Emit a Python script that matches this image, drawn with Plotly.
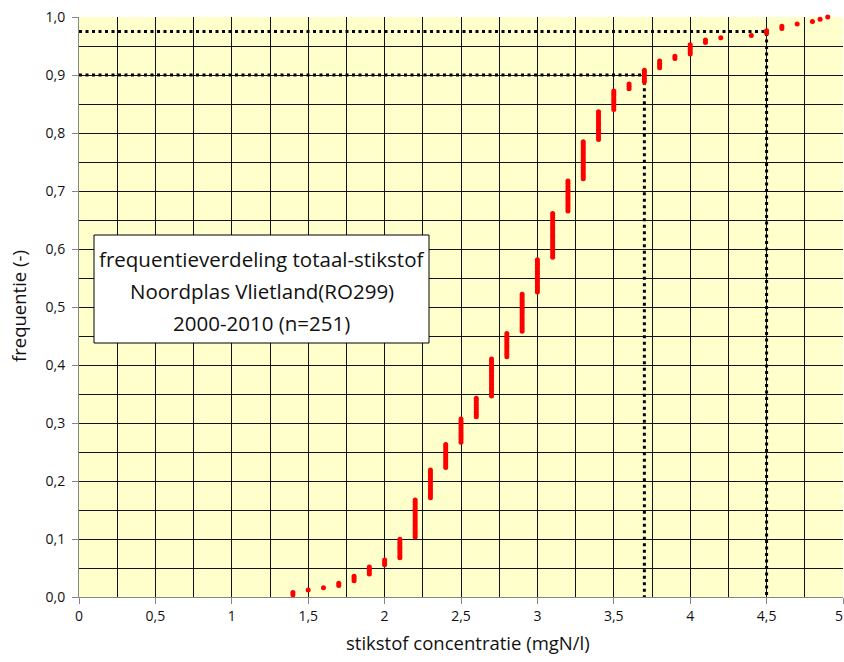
import plotly.graph_objects as go

# concentration classes (mgN/l) and number of samples per class (n = 251)
conc = [1.4, 1.5, 1.6, 1.7, 1.8, 1.9, 2.0, 2.1, 2.2, 2.3, 2.4, 2.5, 2.6, 2.7, 2.8, 2.9,
        3.0, 3.1, 3.2, 3.3, 3.4, 3.5, 3.6, 3.7, 3.8, 3.9, 4.0, 4.1, 4.2, 4.4, 4.5, 4.6,
        4.7, 4.8, 4.85, 4.9]
counts = [2, 1, 1, 2, 3, 4, 3, 9, 17, 13, 11, 11, 9, 17, 11, 17,
          15, 20, 14, 17, 13, 9, 3, 6, 4, 2, 5, 2, 1, 1, 2, 2,
          1, 1, 1, 1]
n_total = 251

# percentile reference lines
p90_conc, p90_freq = 3.7, 0.9
p975_conc, p975_freq = 4.5, 0.975

x_ticks = [0, 0.5, 1, 1.5, 2, 2.5, 3, 3.5, 4, 4.5, 5]
x_ticktext = ["0", "0,5", "1", "1,5", "2", "2,5", "3", "3,5", "4", "4,5", ""]
x_last_label = "5"
y_ticks = [0.0, 0.1, 0.2, 0.3, 0.4, 0.5, 0.6, 0.7, 0.8, 0.9, 1.0]

box_lines = ["frequentieverdeling totaal-stikstof",
             "Noordplas Vlietland(RO299)",
             "2000-2010 (n=251)"]
x_title = "stikstof concentratie (mgN/l)"
y_title = "frequentie (-)"

# cumulative frequency (rank / n) per sample
xs, ys = [], []
rank = 0
for c, k in zip(conc, counts):
    for _ in range(k):
        rank += 1
        xs.append(c)
        ys.append(rank / n_total)

FONT = "Open Sans"
TXT = "#111"
fig = go.Figure()

dot = dict(color="black", width=3, dash="3px,3.5px")
fig.add_trace(go.Scatter(x=[0, p90_conc, p90_conc], y=[p90_freq, p90_freq, 0],
                         mode="lines", line=dot, hoverinfo="skip", showlegend=False))
fig.add_trace(go.Scatter(x=[0, p975_conc, p975_conc], y=[p975_freq, p975_freq, 0],
                         mode="lines", line=dot, hoverinfo="skip", showlegend=False))
fig.add_trace(go.Scatter(x=xs, y=ys, mode="markers",
                         marker=dict(color="#FF0000", size=5, line=dict(width=0)),
                         cliponaxis=False, showlegend=False))

# pixel -> paper helpers for the plot area
L, T, W, H = 79, 17, 764, 580
def px(x): return (x - L) / W
def py(y): return (T + H - y) / H

# text box
fig.add_shape(type="rect", xref="paper", yref="paper",
              x0=px(94), x1=px(429), y0=py(343), y1=py(235),
              fillcolor="white", line=dict(color="black", width=1), layer="above")
for i, t in enumerate(box_lines):
    fig.add_annotation(xref="paper", yref="paper", x=px(261.5), y=py(259 + 32 * i),
                       text=t, showarrow=False, xanchor="center", yanchor="middle",
                       font=dict(family=FONT, size=20.5, color=TXT))

# last x tick label, kept inside the page
fig.add_annotation(xref="paper", yref="paper", x=px(845), y=py(615), text=x_last_label,
                   showarrow=False, xanchor="right", yanchor="middle",
                   font=dict(family=FONT, size=14, color=TXT))

# axis titles
fig.add_annotation(xref="paper", yref="paper", x=px(468), y=py(642), text=x_title,
                   showarrow=False, xanchor="center", yanchor="middle",
                   font=dict(family=FONT, size=18.5, color=TXT))
fig.add_annotation(xref="paper", yref="paper", x=px(18), y=py(306), text=y_title,
                   showarrow=False, xanchor="center", yanchor="middle", textangle=-90,
                   font=dict(family=FONT, size=18.5, color=TXT))

fig.update_layout(
    width=844, height=662,
    margin=dict(l=L, r=844 - L - W, t=T, b=662 - T - H),
    paper_bgcolor="white", plot_bgcolor="#FFFFCC",
    separators=",.",
    font=dict(family=FONT, size=14, color=TXT),
    showlegend=False,
    xaxis=dict(range=[0, 5], tickvals=x_ticks, ticktext=x_ticktext, ticks="outside", ticklen=6,
               tickcolor="#868686", showline=True, linecolor="#868686", linewidth=1,
               showgrid=True, gridcolor="#111", gridwidth=1, zeroline=False,
               minor=dict(dtick=0.25, showgrid=True, gridcolor="#111", gridwidth=1),
               automargin=False),
    yaxis=dict(range=[0, 1], tickvals=y_ticks, tickformat=".1f", ticks="outside", ticklen=6,
               tickcolor="#868686", showline=True, linecolor="#868686", linewidth=1,
               showgrid=True, gridcolor="#111", gridwidth=1, zeroline=False,
               minor=dict(dtick=0.05, showgrid=True, gridcolor="#111", gridwidth=1),
               ticklabelstandoff=4, automargin=False),
)

fig.write_html("out.html", config={"displayModeBar": False},
               post_script="document.body.style.margin='0';document.body.style.overflow='hidden';")
